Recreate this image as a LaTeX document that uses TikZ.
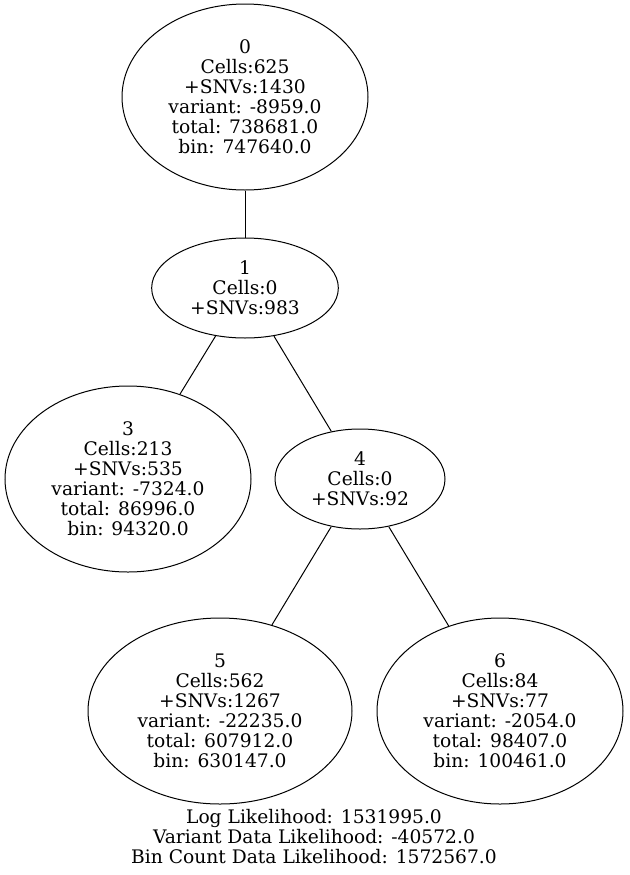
\documentclass[tikz,border=0pt]{standalone}
\usepackage{fontspec}
\setmainfont{DejaVu Serif}
\usepackage{tikz}
\usetikzlibrary{shapes,positioning}
\tikzstyle{clone} = [ellipse, draw, align=center, inner sep=0pt, font=\fontsize{14}{15}\selectfont]
\tikzstyle{info} = [align=center, inner sep=0pt, font=\fontsize{14}{15}\selectfont]

\begin{document}
\begin{tikzpicture}[x=0.75pt, y=-0.75pt, line width=0.75pt]
    \useasboundingbox (0,0) rectangle (629,875);
    \node[clone, minimum width=184.5pt, minimum height=139.5pt] (n0) at (245,97) {0\\Cells:625\\+SNVs:1430\\variant: -8959.0\\total: 738681.0\\bin: 747640.0};
    \node[clone, minimum width=140pt, minimum height=75pt] (n1) at (245,288) {1\\Cells:0\\+SNVs:983};
    \node[clone, minimum width=184.5pt, minimum height=139.5pt] (n3) at (128,479) {3\\Cells:213\\+SNVs:535\\variant: -7324.0\\total: 86996.0\\bin: 94320.0};
    \node[clone, minimum width=127.5pt, minimum height=75pt] (n4) at (360,479) {4\\Cells:0\\+SNVs:92};
    \node[clone, minimum width=198pt, minimum height=139.5pt] (n5) at (220,711) {5\\Cells:562\\+SNVs:1267\\variant: -22235.0\\total: 607912.0\\bin: 630147.0};
    \node[clone, minimum width=184.5pt, minimum height=139.5pt] (n6) at (500,711) {6\\Cells:84\\+SNVs:77\\variant: -2054.0\\total: 98407.0\\bin: 100461.0};

    \node[info] (ll) at (314,837) {Log Likelihood: 1531995.0\\Variant Data Likelihood: -40572.0\\Bin Count Data Likelihood: 1572567.0};

    \draw (n0) -- (n1);
    \draw (n1) -- (n3);
    \draw (n1) -- (n4);
    \draw (n4) -- (n5);
    \draw (n4) -- (n6);
\end{tikzpicture}
\end{document}
